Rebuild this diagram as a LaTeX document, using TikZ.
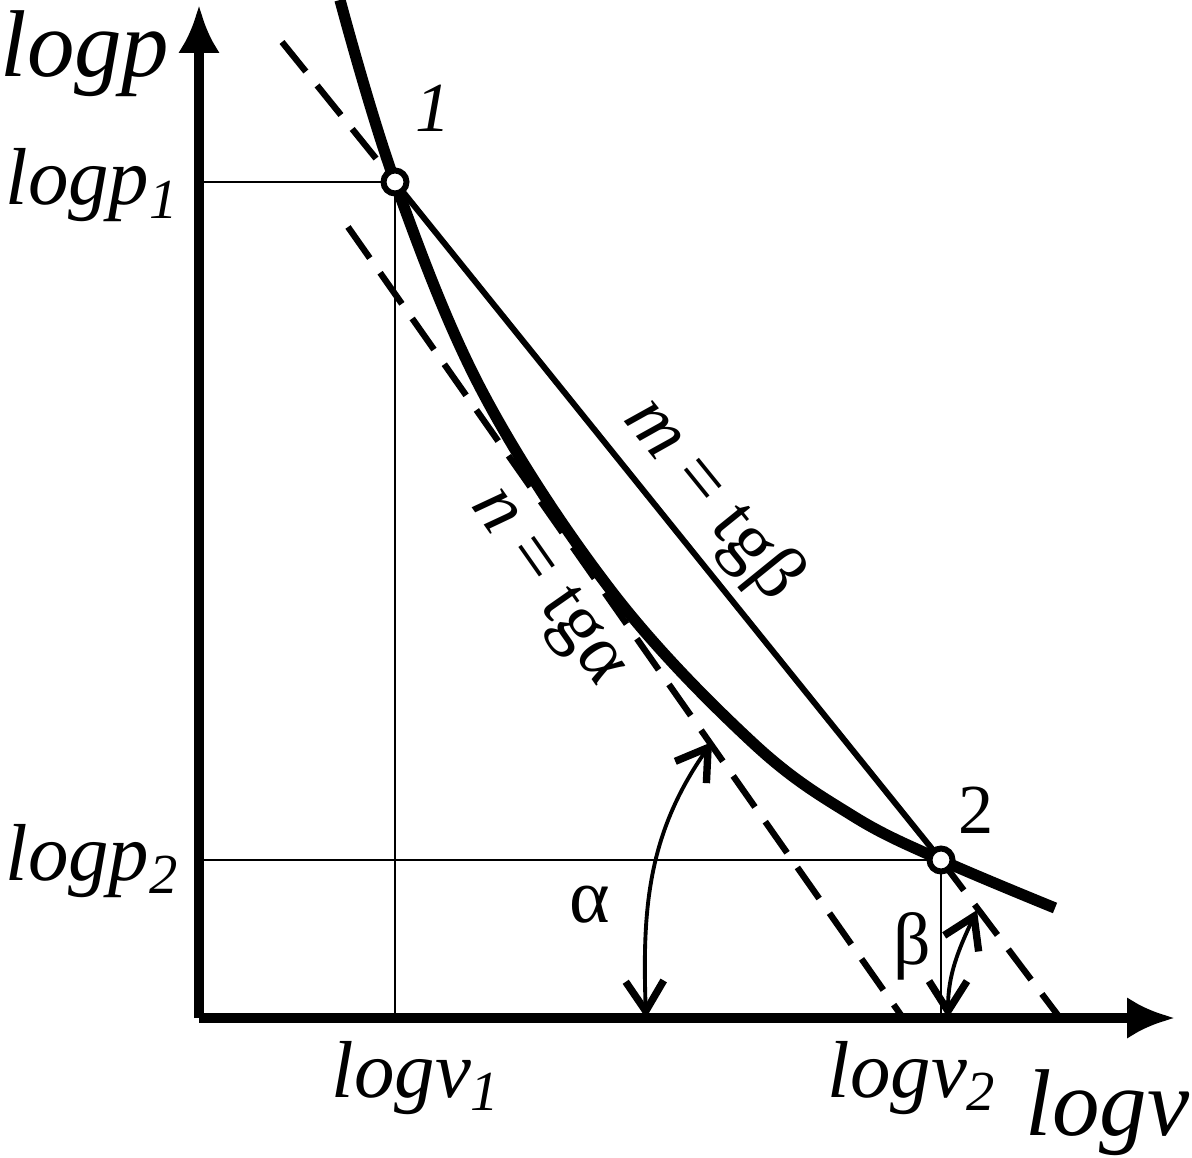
\documentclass[tikz,border=0pt]{standalone}
\usepackage{fontspec}
\IfFontExistsTF{Liberation Serif}{\setmainfont{Liberation Serif}\newfontfamily\grk{Liberation Serif}}{\newfontfamily\grk{DejaVu Serif}}
\usepackage{tikz}
\usetikzlibrary{arrows.meta}
\tikzset{>=latex}
\tikzstyle{axis} = [line width=2.6pt, -{Latex[length=4.8mm, width=4.2mm]}]
\tikzstyle{curve} = [line width=3.2pt]
\tikzstyle{chord} = [line width=1.7pt]
\tikzstyle{tang} = [line width=1.8pt, dash pattern=on 10.8pt off 5.1pt]
\tikzstyle{guide} = [line width=0.5pt]
\tikzstyle{angarc} = [line width=1.1pt, {Straight Barb[length=3mm, width=3.8mm, line width=2.1pt]}-{Straight Barb[length=3mm, width=3.8mm, line width=2.1pt]}]
\tikzstyle{pt} = [circle, draw=black, line width=1.7pt, fill=white, inner sep=0, minimum size=0.23cm]
\tikzstyle{lbl} = [draw=none, inner sep=0]
\newcommand{\axfont}{\fontsize{27}{32}\selectfont\itshape}
\newcommand{\subfont}{\fontsize{23}{28}\selectfont\itshape}
\newcommand{\numfont}{\fontsize{20}{24}\selectfont}
\newcommand{\slopefont}{\fontsize{22}{26}\selectfont}

\begin{document}
\begin{tikzpicture}
\useasboundingbox (0, 0) rectangle (11.92, 11.57);
% axes
\coordinate (O) at (1.99, 1.39);
\coordinate (ytip) at (1.99, 11.52);
\coordinate (xtip) at (11.75, 1.39);
% state points
\coordinate (p1) at (3.95, 9.75);
\coordinate (p2) at (9.41, 2.97);
% ends of the dashed lines and of the angle arcs
\coordinate (tA1) at (2.82, 11.15);
\coordinate (tA2) at (10.60, 1.39);
\coordinate (tB1) at (3.48, 9.30);
\coordinate (tB2) at (9.03, 1.39);
\coordinate (a1) at (6.46, 1.39);
\coordinate (a2) at (7.12, 4.15);
\coordinate (b1) at (9.48, 1.39);
\coordinate (b2) at (9.77, 2.47);

\draw [guide] (p1) -- (p1 -| O);
\draw [guide] (p1) -- (p1 |- O);
\draw [guide] (p2) -- (p2 -| O);
\draw [guide] (p2) -- (p2 |- O);
\draw [tang] (tA1) -- (p1);
\draw [tang] (p2) -- (tA2);
\draw [tang] (tB1) -- (tB2);
\draw [chord] (p1) -- (p2);
\draw [curve] plot [smooth, tension=0.6] coordinates {(3.40, 11.57) (p1) (4.83, 7.64) (6.13, 5.64) (7.53, 4.14) (8.53, 3.41) (p2) (10.55, 2.49)};
\draw [axis] (O) -- (ytip);
\draw [axis] (O) -- (xtip);
\draw [angarc] (a1) to [out=92, in=-125] (a2);
\draw [angarc] (b1) to [out=90, in=-115] (b2);
\node [pt] (c1) at (p1) {};
\node [pt] (c2) at (p2) {};

% labels
\node [lbl, anchor=base] (lp) at (0.85, 10.80) {\axfont logp};
\node [lbl, anchor=base east] (lp1) at (1.80, 9.52) {\subfont logp\textsubscript{1}};
\node [lbl, anchor=base east] (lp2) at (1.80, 2.77) {\subfont logp\textsubscript{2}};
\node [lbl, anchor=base west] (lv1) at (3.31, 0.60) {\subfont logv\textsubscript{1}};
\node [lbl, anchor=base west] (lv2) at (8.27, 0.60) {\subfont logv\textsubscript{2}};
\node [lbl, anchor=base east] (lv) at (11.90, 0.22) {\axfont logv};
\node [lbl] (n1) at (4.33, 10.49) {\numfont\itshape 1};
\node [lbl] (n2) at (9.76, 3.47) {\numfont 2};
\node [lbl] (alf) at (5.90, 2.52) {\fontsize{22}{26}\selectfont\grk α};
\node [lbl] (bet) at (9.12, 2.11) {\fontsize{21}{26}\selectfont\grk β};
\node [lbl, rotate=-51] (mslope) at (7.12, 6.57) {\slopefont\textit{m} = tg{\grk β}};
\node [lbl, rotate=-55] (nslope) at (5.45, 5.68) {\slopefont\textit{n} = tg{\grk α}};
\end{tikzpicture}
\end{document}
